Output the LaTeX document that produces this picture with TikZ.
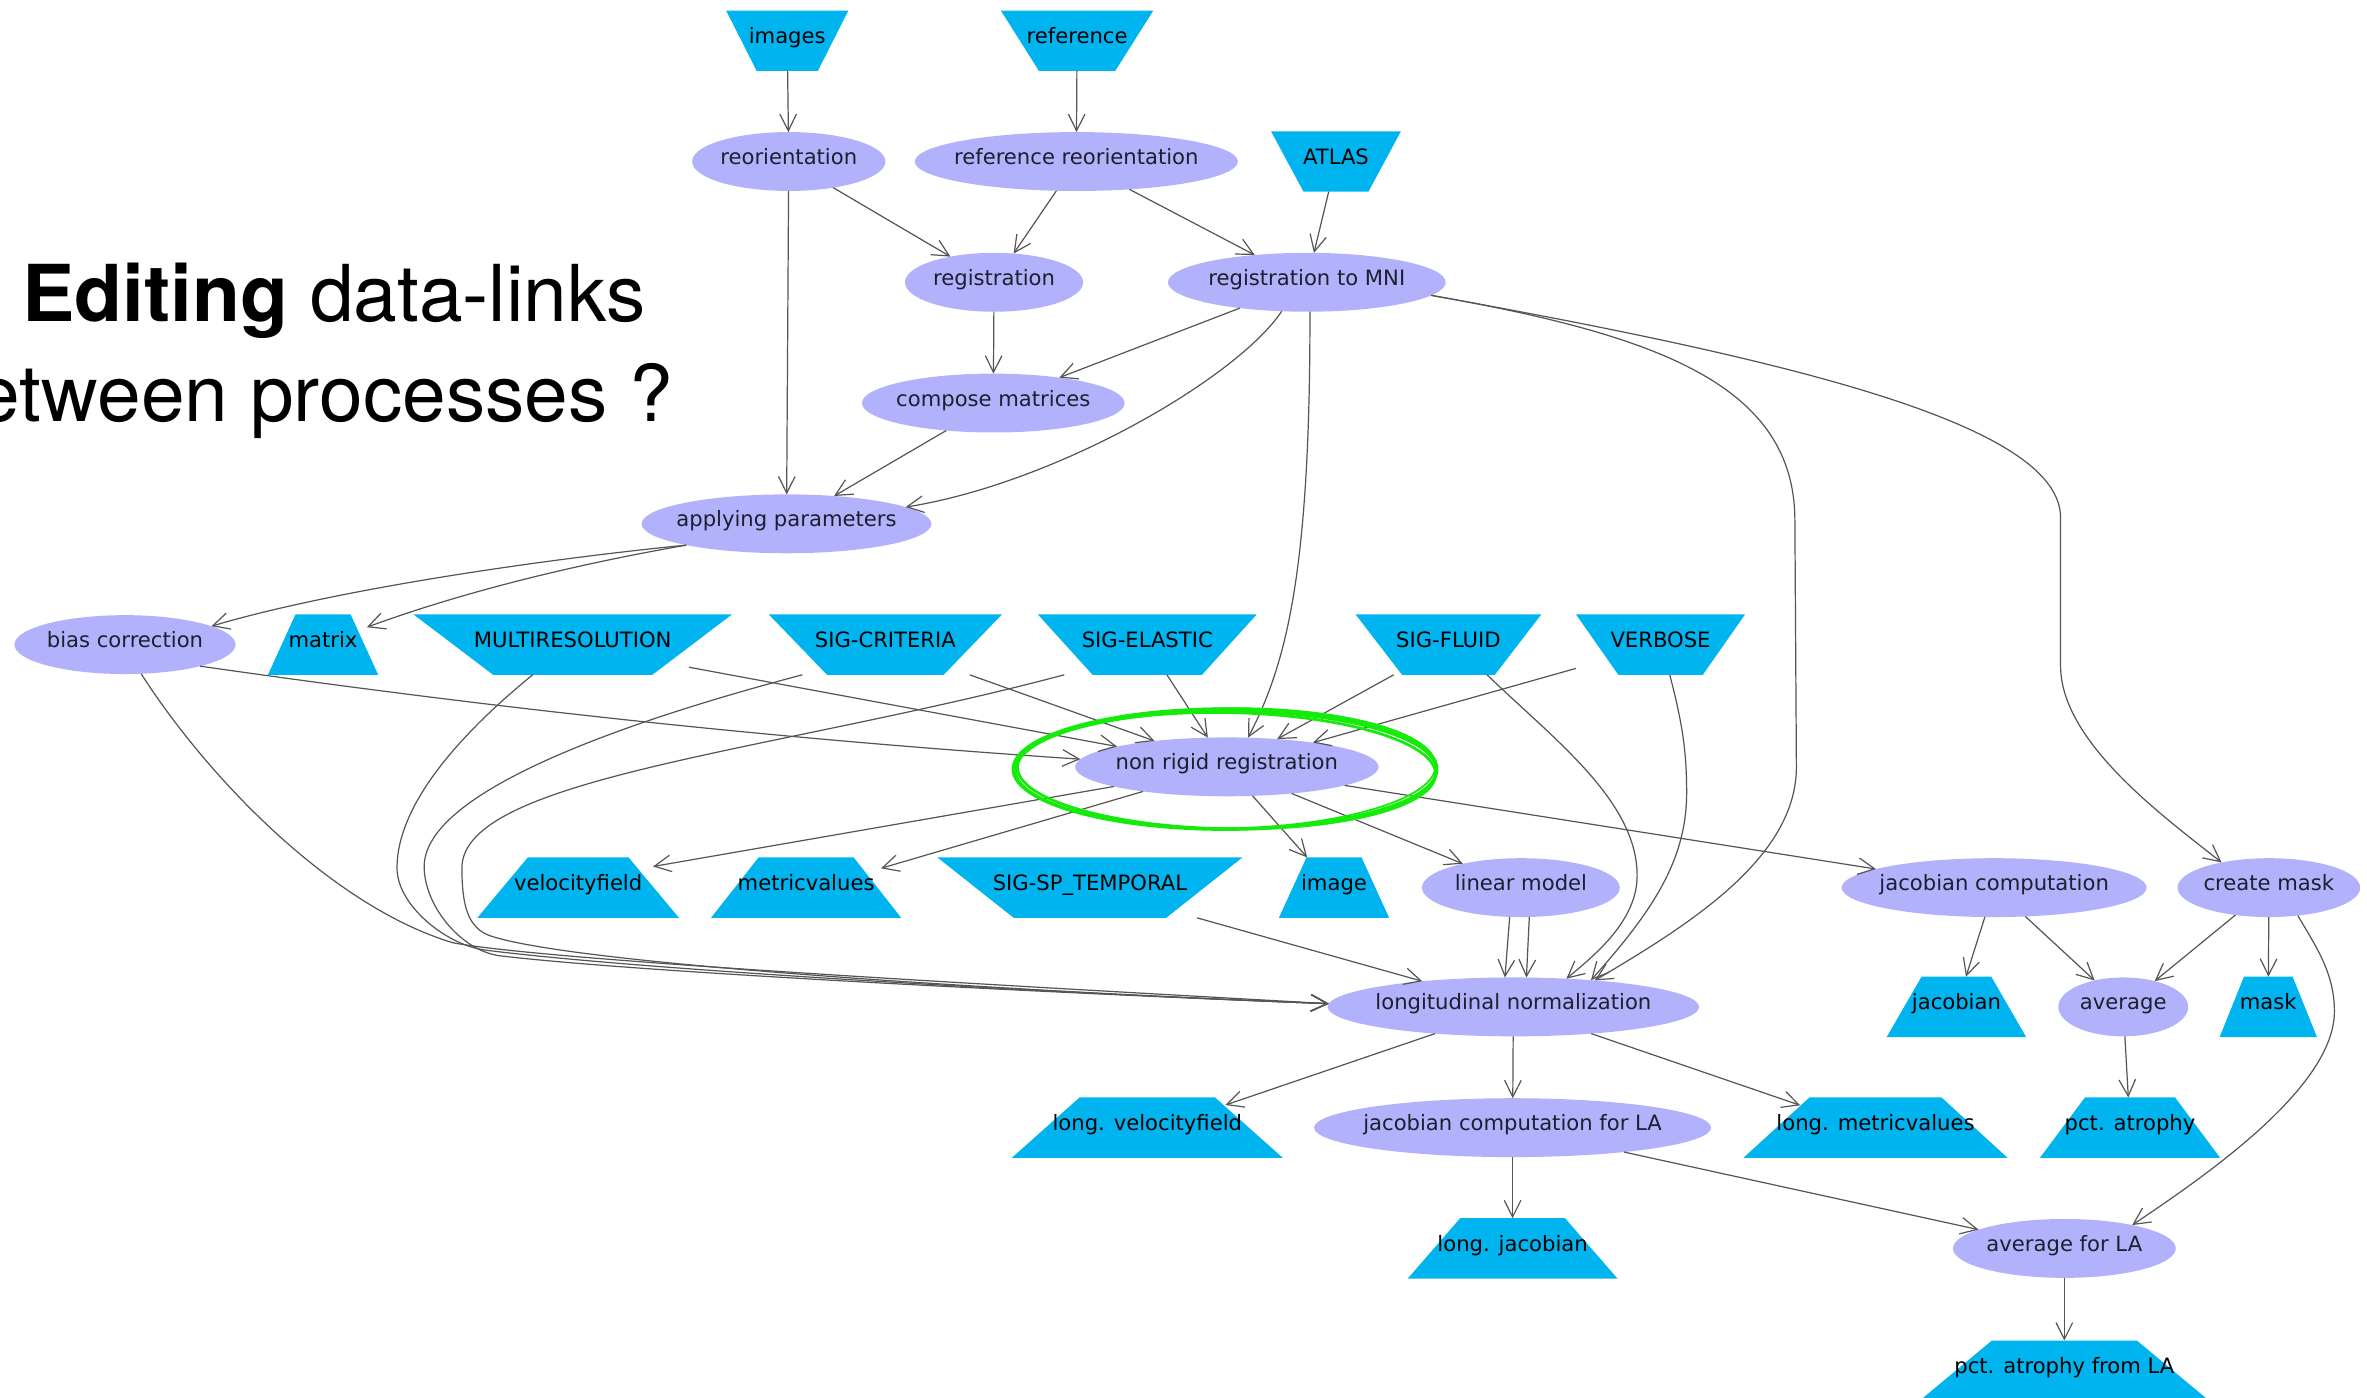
\documentclass[tikz,border=0pt]{standalone}
\usepackage{fontspec}
\setmainfont{DejaVu Sans}
\newfontfamily\headfont{TeX Gyre Heros}
\usetikzlibrary{shapes.geometric,arrows.meta,calc}
\definecolor{procfill}{RGB}{178,178,252}
\definecolor{proctext}{RGB}{30,30,46}
\definecolor{datafill}{RGB}{0,180,240}
\definecolor{linkgray}{RGB}{85,85,85}
\definecolor{markgreen}{RGB}{20,235,10}
\begin{document}
\begin{tikzpicture}[x=1pt,y=-1pt]

    \tikzset{
      proc/.style={
        ellipse, fill=procfill, text=proctext,
        minimum width=#1, minimum height=39pt,
        inner xsep=-25pt, inner ysep=0pt, outer sep=0pt,
        text height=9pt, text depth=5pt,
        font=\fontsize{14}{16}\selectfont,
      },
      inbox/.style={
        rectangle, fill=white, text=black,
        minimum width=#1, minimum height=40pt,
        inner sep=0pt, outer sep=0pt,
        text height=9pt, text depth=5pt,
        font=\fontsize{14}{16}\selectfont,
        path picture={\fill[datafill] (path picture bounding box.north west) -- (path picture bounding box.north east)
          -- ($(path picture bounding box.south east)!0.25!(path picture bounding box.south west)$)
          -- ($(path picture bounding box.south west)!0.25!(path picture bounding box.south east)$) -- cycle;},
      },
      outbox/.style={
        rectangle, fill=white, text=black,
        minimum width=#1, minimum height=40pt,
        inner sep=0pt, outer sep=0pt,
        text height=9pt, text depth=5pt,
        font=\fontsize{14}{16}\selectfont,
        path picture={\fill[datafill] (path picture bounding box.south west) -- (path picture bounding box.south east)
          -- ($(path picture bounding box.north east)!0.25!(path picture bounding box.north west)$)
          -- ($(path picture bounding box.north west)!0.25!(path picture bounding box.north east)$) -- cycle;},
      },
      link/.style={draw=linkgray, line width=0.8pt, -{Straight Barb[length=11pt,width=11pt]}},
      circled/.style={draw=markgreen, line width=1.8pt},
    }
    \useasboundingbox (0,0) rectangle (1568,926);
    \fill[white] (0,0) rectangle (1568,926);
    \clip (0,0) rectangle (1568,926);

    \node[anchor=base west, inner sep=0pt, font={\headfont\fontsize{52}{60}\selectfont}] (titleA) at (14.5,213) {\textbf{Editing} data-links};
    \node[anchor=base east, inner sep=0pt, font={\headfont\fontsize{52}{60}\selectfont}] (titleB) at (446,279.5) {between processes ?};

    \node[inbox=81] (images) at (521.5,27) {images};
    \node[inbox=101] (reference) at (713.5,27) {reference};
    \node[proc=128] (reor) at (522.5,107) {reorientation};
    \node[proc=214] (refreor) at (713,107) {reference reorientation};
    \node[inbox=86] (atlas) at (885,107) {ATLAS};
    \node[proc=118] (registration) at (658.5,187) {registration};
    \node[proc=184] (regmni) at (865.7,187) {registration to MNI};
    \node[proc=174] (compose) at (658,267) {compose matrices};
    \node[proc=192] (applying) at (521,347) {applying parameters};
    \node[proc=146.5] (bias) at (82.8,427) {bias correction};
    \node[outbox=73] (matrix) at (214,427) {matrix};
    \node[inbox=211] (multires) at (379.4,427) {MULTIRESOLUTION};
    \node[inbox=154.5] (sigcrit) at (586.5,427) {SIG-CRITERIA};
    \node[inbox=145] (sigelas) at (760,427) {SIG-ELASTIC};
    \node[inbox=123] (sigfluid) at (959.5,427) {SIG-FLUID};
    \node[inbox=112] (verbose) at (1100,427) {VERBOSE};
    \node[proc=201] (nonrigid) at (812.7,508) {non rigid registration};
    \node[outbox=133.5] (velocity) at (383,588) {velocityfield};
    \node[outbox=126] (metric) at (534,588) {metricvalues};
    \node[inbox=202] (sigsp) at (722,588) {SIG-SP\_TEMPORAL};
    \node[outbox=73] (image) at (883.7,588) {image};
    \node[proc=131] (linmodel) at (1007.5,588) {linear model};
    \node[proc=202] (jaccomp) at (1321,588) {jacobian computation};
    \node[proc=121] (mkmask) at (1503,588) {create mask};
    \node[proc=246] (longnorm) at (1002.5,667) {longitudinal normalization};
    \node[outbox=92.4] (jacobian) at (1296,667) {jacobian};
    \node[proc=86] (average) at (1406.5,667) {average};
    \node[outbox=64.5] (mask) at (1502.6,667) {mask};
    \node[outbox=179.5] (lvelocity) at (760,747) {long. velocityfield};
    \node[proc=263] (jacla) at (1002,747) {jacobian computation for LA};
    \node[outbox=175] (lmetric) at (1242.4,747) {long. metricvalues};
    \node[outbox=119.4] (atrophy) at (1411,747) {pct. atrophy};
    \node[outbox=139] (ljacobian) at (1002,827) {long. jacobian};
    \node[proc=147.6] (avgla) at (1367.5,827) {average for LA};
    \node[outbox=192] (atrophyla) at (1367.5,908) {pct. atrophy from LA};

    \draw[link] (images) -- (reor);
    \draw[link] (reference) -- (refreor);
    \draw[link] (reor) -- (registration);
    \draw[link] (refreor) -- (registration);
    \draw[link] (refreor) -- (regmni);
    \draw[link] (atlas) -- (regmni);
    \draw[link] (registration) -- (compose);
    \draw[link] (regmni) -- (compose);
    \draw[link] (reor) -- (applying);
    \draw[link] (compose) -- (applying);
    \draw[link] (regmni.229) .. controls (820,250) and (700,320) .. (applying.8);
    \draw[link] (regmni.-84) .. controls (868,380) and (852,440) .. (nonrigid.54);
    \draw[link] (regmni.-6) .. controls (1098,222) and (1189,255) .. (1189,345) -- (1190,508)
      .. controls (1190,568) and (1120,612) .. (longnorm.18);
    \draw[link] (regmni.-6) .. controls (1198,240.5) and (1365,283) .. (1365,343) -- (1365,441)
      .. controls (1365,491) and (1432,540) .. (mkmask.152);

    \draw[link] (applying.192) .. controls (355,371) and (220,391) .. (bias.12);
    \draw[link] (applying.192) .. controls (375,375) and (303,393.5) .. ($(matrix)+(29,-11.5)$);

    \draw[link] (bias.-16) .. controls (333,470) and (515,489.5) .. (nonrigid.177);
    \draw[link] ($(multires.south)+(77,-5)$) -- (nonrigid);
    \draw[link] (sigcrit) -- (nonrigid);
    \draw[link] (sigelas) -- (nonrigid);
    \draw[link] (sigfluid) -- (nonrigid);
    \draw[link] (verbose) -- (nonrigid);

    \draw[link] (bias.-61) .. controls (137.8,515.5) and (220,600.5) .. (300,624.5)
      .. controls (360,636) and (650,652) .. (longnorm.179);
    \draw[link] (multires.217) .. controls (322,472.3) and (263,525) .. (263,575)
      .. controls (263,600) and (296,626) .. (321,629.3) .. controls (421,642.3) and (700,658) .. (longnorm.179);
    \draw[link] (sigcrit.200) .. controls (415.5,477.7) and (281,524) .. (281,574)
      .. controls (281,600) and (305,629) .. (330,633) .. controls (420,644) and (700,658) .. (longnorm.179);
    \draw[link] (sigelas.200) .. controls (511.8,498.4) and (306,515) .. (306,575)
      .. controls (306,600) and (310,615) .. (325,620) .. controls (385,640) and (700,658) .. (longnorm.179);
    \draw[link] (sigfluid.-38) .. controls (1028,488.7) and (1084.5,530) .. (1084.5,580)
      .. controls (1084.5,610) and (1056.6,632.5) .. (longnorm.28);
    \draw[link] (verbose.-73) .. controls (1113.6,476) and (1117.3,495) .. (1117.3,525)
      .. controls (1117.3,570) and (1094.6,603.7) .. (longnorm.19);

    \draw[link] (nonrigid) -- ($(velocity)+(49.6,-14)$);
    \draw[link] (nonrigid) -- ($(metric)+(49.6,-12.8)$);
    \draw[link] (nonrigid) -- (image);
    \draw[link] (nonrigid) -- (linmodel);
    \draw[link] (nonrigid) -- (jaccomp);
    \draw[link] (sigsp) -- (longnorm);
    \draw[link] (linmodel.-111) -- (longnorm.106);
    \draw[link] (linmodel.-74) -- (longnorm.66);

    \draw[link] (jaccomp) -- (jacobian);
    \draw[link] (jaccomp) -- (average);
    \draw[link] (mkmask) -- (average);
    \draw[link] (mkmask) -- (mask);
    \draw[link] (average) -- (atrophy);
    \draw[link] (mkmask.-44) .. controls (1534.8,628) and (1546.4,645) .. (1546.4,670)
      .. controls (1546.4,720) and (1462.3,778.1) .. (avgla.19);

    \draw[link] (longnorm) -- ($(lvelocity)+(51.8,-15)$);
    \draw[link] (longnorm) -- (jacla);
    \draw[link] (longnorm) -- ($(lmetric)+(-49.9,-14.8)$);
    \draw[link] (jacla) -- (ljacobian);
    \draw[link] (jacla) -- (avgla);
    \draw[link] (avgla) -- (atrophyla);

    \draw[circled] (812,510) ellipse [x radius=139.5, y radius=39];
    \draw[circled] (811.5,509.5) ellipse [x radius=140.5, y radius=40];
    \draw[circled, rotate around={-1:(812,510)}] (812.5,510.5) ellipse [x radius=138.5, y radius=38.5];
    \draw[circled, line width=1.2pt, rotate around={0.8:(812,510)}] (812,509) ellipse [x radius=139, y radius=39.8];

\end{tikzpicture}
\end{document}
